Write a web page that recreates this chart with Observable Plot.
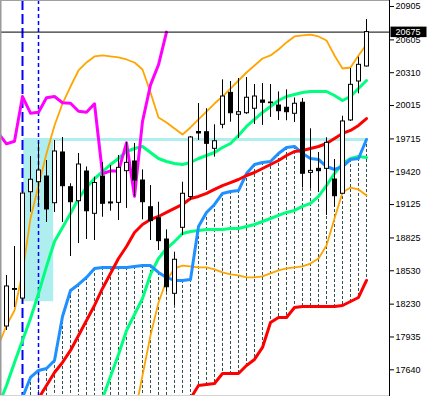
<!DOCTYPE html>
<html><head><meta charset="utf-8">
<script src="https://cdn.jsdelivr.net/npm/d3@7"></script>
<script src="https://cdn.jsdelivr.net/npm/@observablehq/plot@0.6"></script>
<style>
html,body{margin:0;padding:0;background:#fff;}
#chart svg{display:block;}
</style>
</head><body><div id="chart"></div>
<script>
// ---- candles (bar 0 .. 45) ----
const opens  = [18029,18358,18280,19236,19326,19377,19137,19593,19281,19155,19422,19042,19377,19144,19140,19425,19512,19341,19101,19002,18811,18323,18916,19193,19777,19775,19626,19842,20129,19932,19946,19986,20060,20042,20015,19995,19941,20040,19410,19446,19446,19350,19222,19881,20231,20366];
const highs  = [18488,18748,19242,19557,19683,19521,19701,19728,19312,19584,19463,19371,19503,19476,19566,19683,19674,19437,19296,19146,18898,18697,19326,19737,20033,19986,19842,20246,20231,20258,20267,20204,20213,20204,20137,20156,20083,20078,19806,19593,19725,19530,19919,20348,20449,20788];
const lows   = [17993,18200,18244,19056,19117,18964,19054,18964,18658,18775,18811,18802,19011,19065,18982,19090,19198,18988,18802,18712,18337,18218,18847,19162,19701,19251,19551,19806,19865,19719,19935,19845,19836,19908,19881,19878,19863,19274,19269,19233,19027,19101,19216,19872,20120,20360];
const closes = [18389,18366,19224,19348,19431,19081,19602,19290,19146,19485,19065,19319,19132,19135,19455,19500,19341,19146,18976,18796,18382,18629,19222,19728,19764,19671,19694,20096,19946,19955,20085,20096,20040,20036,19964,19955,20031,19402,19428,19425,19680,19200,19872,20201,20381,20675];

// ---- indicator lines, bars -1 .. 45 ----
const firstLineBar = -1;
const upper2 = [17859,18038,18173,18514,19000,19296,19584,19836,20033,20186,20330,20402,20456,20465,20456,20447,20429,20402,20339,20132,19908,19863,19809,19755,19818,19890,19961,20033,20096,20168,20240,20312,20375,20438,20465,20519,20582,20636,20645,20653,20636,20600,20465,20348,20357,20465,20564];
const upper1 = [17319,17499,17706,17903,18101,18326,18569,18793,18919,19045,19180,19278,19359,19422,19485,19539,19602,19629,19647,19593,19539,19512,19494,19485,19503,19539,19566,19593,19638,19674,19746,19827,19890,19953,20006,20060,20096,20114,20132,20141,20141,20141,20105,20060,20096,20168,20240];
const middle = [null,null,null,17149,17265,17382,17499,17616,17706,17814,17948,18083,18218,18371,18506,18640,18748,18874,18946,18991,19018,19054,19090,19126,19180,19198,19225,19261,19296,19323,19350,19386,19413,19449,19485,19521,19566,19602,19611,19629,19647,19674,19719,19764,19791,19836,19898];
const lower1 = [null,null,null,null,null,null,null,null,null,null,null,null,17185,17382,17580,17778,17993,18137,18281,18497,18640,18730,18793,18865,18883,18892,18901,18901,18901,18910,18910,18928,18946,18973,19000,19027,19054,19072,19108,19135,19198,19296,19404,19494,19539,19557,19548];
const lower2 = [null,null,null,null,null,null,null,null,null,null,null,null,null,null,null,null,null,17229,17589,17948,18245,18443,18551,18577,18569,18560,18560,18542,18515,18497,18488,18470,18470,18479,18506,18533,18551,18560,18569,18595,18640,18757,19000,19234,19278,19261,19207];
const spanA  = [null,null,null,17391,17571,17634,17652,17724,18119,18353,18407,18470,18551,18560,18560,18560,18560,18569,18577,18577,18515,18470,18443,18443,18452,18928,19054,19126,19225,19243,19251,19404,19485,19503,19512,19584,19638,19647,19584,19539,19530,19467,19440,19467,19530,19539,19710];
const spanB  = [null,null,null,null,null,null,null,null,null,null,null,null,null,null,null,null,null,null,null,null,null,null,null,17256,17382,17499,17508,17517,17607,17607,17607,17679,17733,17841,18065,18110,18110,18200,18209,18209,18209,18209,18209,18218,18254,18290,18443];
const chikouShift = 25;

// ---- axis / annotations ----
const tickValues = [20905,20605,20310,20015,19715,19420,19125,18825,18530,18230,17935,17640];
const xDomain = [-0.75, 47.875];
const yDomain = [17400, 20959];
const zoneBars = [2.15, 5.9];
const zonePrices = [18252, 19710];
const zoneLineEndBar = 45.1;
const separatorLong = [2];
const separatorShort = [4];

// ---- build tables ----
const candles = opens.map((o, k) => ({i: k, open: o, high: highs[k], low: lows[k], close: closes[k]}));
const lineBars = upper2.map((_, k) => k + firstLineBar);
const series = arr => lineBars.map((b, k) => ({i: b, v: arr[k]}));
const chikou = closes.map((c, k) => ({i: k - chikouShift, v: c})).filter(d => d.i >= firstLineBar);
const cloud = lineBars.map((b, k) => ({i: b, a: spanA[k], b: spanB[k]})).filter(d => d.a != null);
const lastPrice = closes[closes.length - 1];
const fmt = d3.format("d");

const lineOpts = (stroke, w) => ({x: "i", y: "v", stroke, strokeWidth: w, clip: true, strokeLinejoin: "round"});

const chart = Plot.plot({
  width: 429, height: 396,
  marginLeft: 0, marginRight: 40, marginTop: 0, marginBottom: 0,
  style: {fontFamily: "'Liberation Sans', Arial, sans-serif", fontSize: "9px", background: "white", overflow: "visible", color: "black"},
  x: {domain: xDomain, axis: null},
  y: {domain: yDomain},
  marks: [
    Plot.rect([zonePrices], {x1: () => zoneBars[0], x2: () => zoneBars[1], y1: d => d[0], y2: d => d[1], fill: "#afeeee"}),
    Plot.ruleY([zonePrices[1]], {x1: zoneBars[0], x2: zoneLineEndBar, stroke: "#afeeee", strokeWidth: 3}),
    Plot.ruleX(cloud, {x: "i", y1: "a", y2: d => d.b ?? yDomain[0], stroke: "#2f4f4f", strokeDasharray: "3,2", clip: true}),
    Plot.ruleX(separatorLong, {stroke: "#0000ff", strokeWidth: 2, strokeDasharray: "10,4"}),
    Plot.ruleX(separatorShort, {stroke: "#0000ff", strokeWidth: 1.5, strokeDasharray: "4,3"}),
    Plot.line(series(upper2), lineOpts("#ffa500", 1.8)),
    Plot.line(series(lower2), lineOpts("#ffa500", 1.8)),
    Plot.line(series(upper1), lineOpts("#00ff7f", 3)),
    Plot.line(series(lower1), lineOpts("#00ff7f", 3)),
    Plot.line(series(spanA), lineOpts("#1e90ff", 3)),
    Plot.line(series(spanB), lineOpts("#ff0000", 3)),
    Plot.line(series(middle), lineOpts("#ff0000", 3)),
    Plot.line(chikou, lineOpts("#ff00ff", 3)),
    Plot.ruleY([lastPrice], {stroke: "black"}),
    Plot.ruleX(candles, {x: "i", y1: "low", y2: "high", stroke: "black"}),
    Plot.rect(candles, {x1: "i", x2: "i", y1: "open", y2: "close", insetLeft: -1.5, insetRight: -2.5,
      fill: d => d.close >= d.open ? "white" : "black", stroke: "black", strokeWidth: 1}),
    Plot.ruleX([xDomain[1]], {stroke: "black"}),
    Plot.ruleX([xDomain[0]], {stroke: "#9a9a9a", strokeWidth: 2}),
    Plot.ruleY([yDomain[1]], {stroke: "#a0a0a0"}),
    Plot.ruleY([yDomain[0]], {stroke: "#d4d4d4", dy: -1}),
    Plot.axisY({anchor: "right", ticks: tickValues, tickSize: 4, tickPadding: 2, tickFormat: fmt, label: null}),
    Plot.rect([lastPrice], {x1: () => xDomain[1], x2: () => xDomain[1], y1: d => d, y2: d => d,
      insetLeft: 1.5, insetRight: -37.5, insetTop: -5, insetBottom: -5.5, fill: "black"}),
    Plot.text([lastPrice], {frameAnchor: "right", y: d => d, text: d => fmt(d), dx: 6, textAnchor: "start", fill: "white"})
  ]
});
document.getElementById("chart").appendChild(chart);
</script>
</body></html>
